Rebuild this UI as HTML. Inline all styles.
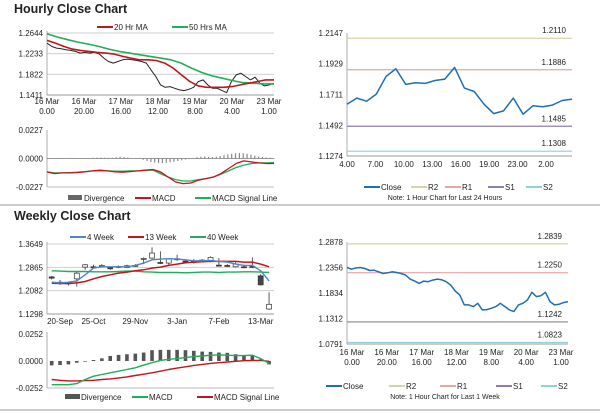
<!DOCTYPE html>
<html><head><meta charset="utf-8"><style>
html,body{margin:0;padding:0;background:#fff;width:600px;height:413px;overflow:hidden}
svg{font-family:"Liberation Sans",sans-serif;display:block}
text{fill:#222}
</style></head><body>
<svg id="s" width="600" height="413" viewBox="0 0 600 413" xmlns="http://www.w3.org/2000/svg">
<text x="14" y="13" font-size="12.5" font-weight="bold">Hourly Close Chart</text>
<line x1="0" y1="205" x2="600" y2="205" stroke="#999" stroke-width="1"/>
<text x="14" y="220" font-size="12.5" font-weight="bold">Weekly Close Chart</text>
<line x1="0" y1="410" x2="600" y2="410" stroke="#999" stroke-width="1"/>
<g id="g"></g>
</svg>
<script>
// ===== DATA =====
// Hourly close chart (top-left)
const hClose=[1.2444,1.2378,1.2344,1.2331,1.2311,1.2298,1.2278,1.2244,1.2258,1.2244,1.2258,1.2231,1.2144,1.2078,1.2045,1.2078,1.2111,1.2124,1.2111,1.2098,1.2078,1.2045,1.1911,1.1778,1.1612,1.1565,1.1578,1.1545,1.1512,1.1498,1.1525,1.1565,1.1678,1.1712,1.1612,1.1545,1.1545,1.1498,1.1459,1.1678,1.1811,1.1845,1.1778,1.1712,1.1765,1.1645,1.1592,1.1612,1.1645];
const hMA20=[1.2497,1.2444,1.2378,1.2324,1.2298,1.2278,1.2258,1.2244,1.2224,1.2178,1.2144,1.2111,1.2111,1.2098,1.2045,1.1945,1.1811,1.1678,1.1592,1.1565,1.1565,1.1565,1.1578,1.1612,1.1645,1.1678,1.1712,1.1712];
const hMA50=[1.2631,1.2564,1.2511,1.2464,1.2424,1.2378,1.2324,1.2278,1.2244,1.2211,1.2178,1.2144,1.2111,1.2045,1.1945,1.1858,1.1791,1.1745,1.1698,1.1658,1.1645,1.1632,1.1632];
const hPriceTicks=[1.2644,1.2233,1.1822,1.1411];
const hXLabels=[["16 Mar","0.00"],["16 Mar","20.00"],["17 Mar","16.00"],["18 Mar","12.00"],["19 Mar","8.00"],["20 Mar","4.00"],["23 Mar","1.00"]];
const hMacd=[-0.0107,-0.0120,-0.0115,-0.0115,-0.0112,-0.0107,-0.0099,-0.0093,-0.0099,-0.0107,-0.0109,-0.0104,-0.0099,-0.0093,-0.0088,-0.0107,-0.0147,-0.0187,-0.0200,-0.0195,-0.0174,-0.0160,-0.0147,-0.0120,-0.0080,-0.0040,-0.0019,-0.0027,-0.0035,-0.0040,-0.0040];
const hSignal=[-0.0107,-0.0115,-0.0115,-0.0112,-0.0109,-0.0104,-0.0099,-0.0099,-0.0099,-0.0101,-0.0101,-0.0099,-0.0099,-0.0093,-0.0093,-0.0120,-0.0147,-0.0168,-0.0179,-0.0179,-0.0168,-0.0160,-0.0147,-0.0125,-0.0099,-0.0072,-0.0053,-0.0040,-0.0035,-0.0035,-0.0032];
const hDiv=[0.0002,0.0002,0.0003,0.0003,0.0004,0.0004,0.0005,0.0005,0.0004,0.0003,0.0003,0.0004,0.0006,0.0007,0.0008,0.0006,0.0005,0.0006,0.0010,0.0015,0.0012,0.0008,0.0004,0.0002,0.0000,-0.0010,-0.0020,-0.0028,-0.0032,-0.0035,-0.0036,-0.0034,-0.0030,-0.0026,-0.0020,-0.0014,-0.0008,-0.0004,0.0004,0.0010,0.0014,0.0016,0.0014,0.0012,0.0015,0.0020,0.0026,0.0032,0.0038,0.0042,0.0044,0.0042,0.0038,0.0030,0.0022,0.0016,0.0012,0.0008,0.0006,0.0004];
const hMacdTicks=[0.0227,0.0000,-0.0227];
// Hourly pivot chart (top-right)
const pClose=[1.1642,1.1685,1.1663,1.1713,1.1839,1.1893,1.1782,1.1794,1.1789,1.1810,1.1820,1.1903,1.1756,1.1732,1.1642,1.1575,1.1594,1.1685,1.1571,1.1630,1.1623,1.1635,1.1668,1.1678];
const pTicks=[1.2147,1.1929,1.1711,1.1492,1.1274];
const pXLabels=["4.00","7.00","10.00","13.00","16.00","19.00","23.00","2.00"];
const pLevels=[1.2110,1.1886,1.1485,1.1308];
// Weekly candles (bottom-left)
const wOpen=[1.2546,1.2366,1.2344,1.2479,1.2873,1.2884,1.2918,1.2861,1.2884,1.2861,1.2918,1.3154,1.3176,1.3030,1.3008,1.3154,1.3075,1.3064,1.3086,1.3086,1.2940,1.2929,1.2884,1.2884,1.2895,1.2580,1.1466];
const wClose=[1.2501,1.2344,1.2321,1.2670,1.2951,1.2861,1.2929,1.2816,1.2895,1.2918,1.2929,1.3165,1.3345,1.2996,1.3143,1.3131,1.3053,1.3053,1.3109,1.3199,1.2918,1.2918,1.2974,1.2861,1.2884,1.2276,1.1624];
const wHigh=[1.2569,1.2445,1.2389,1.2726,1.2974,1.2951,1.2974,1.2895,1.2929,1.2951,1.2974,1.3199,1.3536,1.3401,1.3176,1.3289,1.3120,1.3143,1.3143,1.3233,1.3176,1.2974,1.3041,1.2951,1.3199,1.2636,1.2029];
const wLow=[1.2456,1.2276,1.2254,1.2220,1.2783,1.2839,1.2861,1.2783,1.2839,1.2839,1.2884,1.2974,1.3154,1.2974,1.2951,1.3086,1.3008,1.2996,1.3041,1.3041,1.2895,1.2884,1.2861,1.2839,1.2839,1.2254,1.1433];
const w4=[1.2366,1.2344,1.2366,1.2411,1.2614,1.2839,1.2884,1.2884,1.2884,1.2884,1.2929,1.3008,1.3120,1.3143,1.3154,1.3143,1.3120,1.3086,1.3086,1.3098,1.3064,1.3041,1.2974,1.2929,1.2929,1.2749,1.2411];
const w13=[1.2333,1.2321,1.2321,1.2344,1.2389,1.2479,1.2558,1.2614,1.2670,1.2704,1.2749,1.2783,1.2839,1.2873,1.2929,1.2974,1.3019,1.3041,1.3053,1.3064,1.3064,1.3064,1.3064,1.3041,1.3041,1.2974,1.2884];
const w40=[1.2749,1.2738,1.2726,1.2726,1.2726,1.2715,1.2715,1.2715,1.2726,1.2738,1.2738,1.2715,1.2704,1.2693,1.2693,1.2693,1.2681,1.2693,1.2704,1.2704,1.2693,1.2704,1.2704,1.2715,1.2715,1.2704,1.2693];
const wTicks=[1.3649,1.2865,1.2082,1.1298];
const wXLabels=[["20-Sep",0],["25-Oct",5],["29-Nov",10],["3-Jan",15],["7-Feb",20],["13-Mar",25]];
const wDiv=[-0.0041,-0.0038,-0.0032,-0.0016,-0.0006,0.0009,0.0025,0.0047,0.0057,0.0063,0.0069,0.0079,0.0101,0.0104,0.0104,0.0104,0.0101,0.0095,0.0088,0.0085,0.0079,0.0076,0.0063,0.0054,0.0047,0.0016,-0.0032];
const wMacd=[-0.0221,-0.0221,-0.0221,-0.0211,-0.0173,-0.0142,-0.0126,-0.0110,-0.0095,-0.0079,-0.0063,-0.0038,-0.0016,0.0006,0.0016,0.0022,0.0032,0.0041,0.0047,0.0054,0.0057,0.0054,0.0050,0.0050,0.0054,0.0022,-0.0022];
const wSignal=[-0.0173,-0.0180,-0.0186,-0.0186,-0.0183,-0.0180,-0.0173,-0.0167,-0.0158,-0.0148,-0.0135,-0.0123,-0.0110,-0.0095,-0.0079,-0.0066,-0.0054,-0.0041,-0.0032,-0.0022,-0.0016,-0.0009,-0.0003,0.0003,0.0006,0.0006,-0.0003];
const wMacdTicks=[0.0252,0.0000,-0.0252];
// Weekly pivot (bottom-right)
const qClose=[1.2356,1.2322,1.2349,1.2356,1.2336,1.2295,1.2302,1.2268,1.2234,1.2248,1.2268,1.2254,1.2234,1.2200,1.2119,1.2078,1.2031,1.2078,1.2065,1.2099,1.2119,1.2105,1.2065,1.1997,1.1875,1.1793,1.1590,1.1590,1.1556,1.1624,1.1488,1.1495,1.1522,1.1556,1.1624,1.1556,1.1488,1.1455,1.1590,1.1624,1.1692,1.1848,1.1760,1.1780,1.1848,1.1658,1.1590,1.1604,1.1638,1.1658];
const qTicks=[1.2878,1.2356,1.1834,1.1312,1.0791];
const qXLabels=[["16 Mar","0.00"],["16 Mar","20.00"],["17 Mar","16.00"],["18 Mar","12.00"],["19 Mar","8.00"],["20 Mar","4.00"],["23 Mar","1.00"]];
const qLevels=[1.2839,1.2250,1.1242,1.0823];

// ===== DRAW =====
const NS="http://www.w3.org/2000/svg", G=document.getElementById('g');
function el(tag,attrs,txt){const e=document.createElementNS(NS,tag);for(const k in attrs)e.setAttribute(k,attrs[k]);if(txt!=null)e.textContent=txt;G.appendChild(e);return e;}
function lin(v0,v1,p0,p1){return v=>p0+(v-v0)/(v1-v0)*(p1-p0);}
function poly(xs,ys,color,w,name){const d=xs.map((x,i)=>(i?'L':'M')+x.toFixed(1)+' '+ys[i].toFixed(1)).join('');const p=el('path',{d:d,fill:'none',stroke:color,'stroke-width':w,'stroke-linejoin':'round'});

return p;}
function txt(x,y,s,anchor,size,name){const t=el('text',{x:x,y:y,'font-size':size||8,'text-anchor':anchor||'start'},s);

return t;}
function hline(x1,x2,y,color,name,w){const l=el('line',{x1:x1,x2:x2,y1:y,y2:y,stroke:color,'stroke-width':w||1});

return l;}
function vaxis(x,y1,y2,name){const l=el('line',{x1:x,x2:x,y1:y1,y2:y2,stroke:'#999','stroke-width':0.8});

}
function legendLine(x,y,color,label,name){hline(x,x+16,y,color,name+'-swatch',2);txt(x+17,y+3,label,'start',8,name);}
const RED='#c0161c',GRN='#1fae5c',BLUE='#1f6fb2';

// Panel 1: hourly
(function(){
 const X0=47,X1=274,Y=lin(1.2644,1.1411,33,95);
 hPriceTicks.forEach((t,i)=>{hline(X0,X1,Y(t),i==3?'#999':'#cfcfcf','h-gridline');txt(X0-4,Y(t)+3,t.toFixed(4),'end',8,'h-y-tick');});
 vaxis(X0,31,95,'h-y-axis');
 hXLabels.forEach((l,i)=>{const x=X0+i*(X1-5-X0)/6;txt(x,104,l[0],'middle',8,'h-x-tick');txt(x,114,l[1],'middle',8,'h-x-tick');});
 const xi=n=>i=>X0+i*(X1-X0)/(n-1);
 poly(hClose.map((v,i)=>xi(hClose.length)(i)),hClose.map(Y),'#222',1,'h-close-line');
 poly(hMA50.map((v,i)=>xi(hMA50.length)(i)),hMA50.map(Y),GRN,1.6,'h-ma50-line');
 poly(hMA20.map((v,i)=>xi(hMA20.length)(i)),hMA20.map(Y),RED,1.6,'h-ma20-line');
 legendLine(97,27,RED,'20 Hr MA','legend-20hr-ma');legendLine(172,27,GRN,'50 Hrs MA','legend-50hrs-ma');
 const M=lin(0.0227,-0.0227,130,187);
 hMacdTicks.forEach(t=>txt(X0-4,M(t)+3,t.toFixed(4),'end',8,'h-macd-y-tick'));
 vaxis(X0,130,187,'h-macd-y-axis');hline(X0,X1,M(0),'#999','h-macd-zero');hline(X0,X1,187,'#bbb','h-macd-bottom');
 hDiv.forEach((v,i)=>{const x=X0+i*(X1-X0)/(hDiv.length-1);const r=el('rect',{x:x-0.6,y:Math.min(M(0),M(v)),width:1.2,height:Math.max(0.4,Math.abs(M(v)-M(0))),fill:'#888'});
  
  });
 poly(hSignal.map((v,i)=>X0+i*(X1-X0)/(hSignal.length-1)),hSignal.map(M),GRN,1.3,'h-signal-line');
 poly(hMacd.map((v,i)=>X0+i*(X1-X0)/(hMacd.length-1)),hMacd.map(M),RED,1.3,'h-macd-line');
 const b=el('rect',{x:68,y:195,width:14,height:5,fill:'#666'});
 txt(84,201,'Divergence','start',8,'legend-divergence');
 legendLine(135,198,RED,'MACD','legend-macd');legendLine(195,198,GRN,'MACD Signal Line','legend-macd-signal');
})();

// Pivot panels
function pivot(data,ticks,levels,X0,X1,yTop,yBot,xlabels,two,legY,note,pre,legX){
 const Y=lin(ticks[0],ticks[ticks.length-1],yTop,yBot);
 ticks.forEach(t=>txt(X0-4,Y(t)+3,t.toFixed(4),'end',8,pre+'-y-tick'));
 vaxis(X0,yTop,yBot,pre+'-y-axis');hline(X0,X1,yBot,'#999',pre+'-x-axis');
 const cols=['#d6d3a8','#e5a6a6','#8e7fa6','#8fd0dc'];
 levels.forEach((l,i)=>{hline(X0,X1,Y(l),cols[i],pre+'-level-line',1.2);txt(X1-6,Y(l)-5,l.toFixed(4),'end',8,pre+'-level-label');});
 poly(data.map((v,i)=>X0+i*(X1-X0)/(data.length-1)),data.map(Y),BLUE,1.5,pre+'-close-line');
 xlabels.forEach((l,i)=>{const x=X0+(two?5:0)+i*(X1-X0-(two?12:26))/(xlabels.length-1);
  if(two){txt(x,yBot+11,l[0],'middle',8,pre+'-x-tick');txt(x,yBot+21,l[1],'middle',8,pre+'-x-tick');}else txt(x,yBot+11,l,'middle',8,pre+'-x-tick');});
 const names=['Close','R2','R1','S1','S2'],lc=[BLUE].concat(cols);
 names.forEach((n,i)=>legendLine(legX[i],legY,lc[i],n,pre+'-legend-'+n.toLowerCase()));
 txt(445,legY+13,note,'middle',7,pre+'-note');
}
pivot(pClose,pTicks,pLevels,347,572,33,156,pXLabels,false,187,'Note: 1 Hour Chart for Last 24 Hours','hp',[364,411,445,488,526]);
pivot(qClose,qTicks,qLevels,347,568,242,344,qXLabels,true,386,'Note: 1 Hour Chart for Last 1 Week','wp',[326,389,440,496,541]);

// Panel 3: weekly
(function(){
 const X0=47,X1=274,Y=lin(1.3649,1.1298,244,314),xc=i=>51.7+i*8.36;
 wTicks.forEach((t,i)=>{hline(X0,X1,Y(t),i==3?'#999':'#cfcfcf','w-gridline');txt(X0-4,Y(t)+3,t.toFixed(4),'end',8,'w-y-tick');});
 vaxis(X0,242,314,'w-y-axis');
 wXLabels.forEach(l=>txt(Math.max(xc(l[1]),60),324,l[0],'middle',8,'w-x-tick'));
 wOpen.forEach((o,i)=>{const c=wClose[i],x=xc(i);
  const w=el('line',{x1:x,x2:x,y1:Y(wHigh[i]),y2:Y(wLow[i]),stroke:'#333','stroke-width':0.8});
  const r=el('rect',{x:x-2.5,y:Y(Math.max(o,c)),width:5,height:Math.max(1,Math.abs(Y(o)-Y(c))),fill:c>=o?'#fff':'#444',stroke:'#333','stroke-width':0.7});
  });
 poly(w40.map((v,i)=>xc(i)),w40.map(Y),GRN,1.4,'w-40wk-line');
 poly(w13.map((v,i)=>xc(i)),w13.map(Y),RED,1.5,'w-13wk-line');
 poly(w4.map((v,i)=>xc(i)),w4.map(Y),'#4f86c6',1.4,'w-4wk-line');
 legendLine(70,237,'#4f86c6','4 Week','legend-4-week');legendLine(128,237,RED,'13 Week','legend-13-week');legendLine(190,237,GRN,'40 Week','legend-40-week');
 const M=lin(0.0252,-0.0252,334,388);
 wMacdTicks.forEach(t=>txt(X0-4,M(t)+3,t.toFixed(4),'end',8,'w-macd-y-tick'));
 vaxis(X0,332,388,'w-macd-y-axis');hline(X0,X1,388,'#bbb','w-macd-bottom');
 wDiv.forEach((v,i)=>{const r=el('rect',{x:xc(i)-1.8,y:Math.min(M(0),M(v)),width:3.6,height:Math.max(0.5,Math.abs(M(v)-M(0))),fill:'#555'});
  });
 poly(wSignal.map((v,i)=>xc(i)),wSignal.map(M),RED,1.4,'w-signal-line');
 poly(wMacd.map((v,i)=>xc(i)),wMacd.map(M),GRN,1.4,'w-macd-line');
 const b=el('rect',{x:65,y:394,width:15,height:5,fill:'#555'});
 txt(81,400,'Divergence','start',8,'legend-w-divergence');
 legendLine(132,397,GRN,'MACD','legend-w-macd');legendLine(197,397,RED,'MACD Signal Line','legend-w-macd-signal');
})();
</script>
</body></html>
